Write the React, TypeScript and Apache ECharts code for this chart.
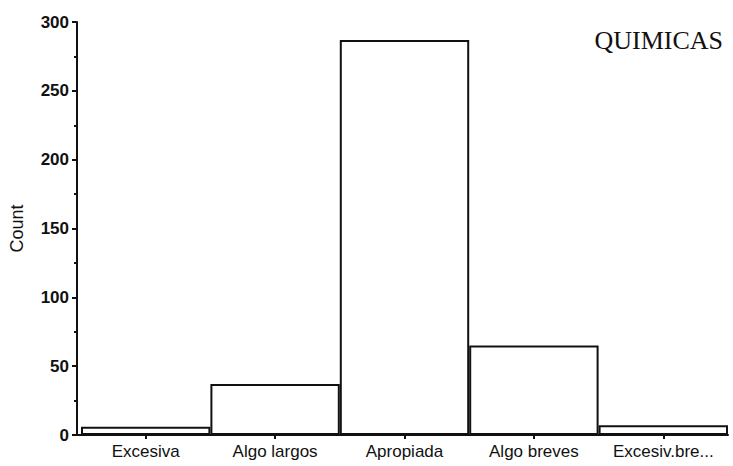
import React, { useEffect, useRef } from "react";
import * as echarts from "echarts";

const categories = ["Excesiva", "Algo largos", "Apropiada", "Algo breves", "Excesiv.bre..."];
const counts = [6, 37, 287, 65, 7];
const yTicks = [0, 50, 100, 150, 200, 250, 300];
const titleText = "QUIMICAS";
const yName = "Count";

export default function App() {
  const ref = useRef<HTMLDivElement>(null);
  useEffect(() => {
    if (!ref.current) return;
    const chart = echarts.init(ref.current, null, { renderer: "svg" });
    chart.setOption({
      animation: false,
      backgroundColor: "#ffffff",
      title: {
        text: titleText,
        right: 5,
        top: 22,
        textStyle: {
          fontFamily: "'Liberation Serif', 'Times New Roman', serif",
          fontWeight: "normal",
          fontSize: 26,
          color: "#111",
        },
      },
      grid: { left: 80, right: 5, top: 22, bottom: 31 },
      xAxis: {
        type: "category",
        data: categories,
        boundaryGap: true,
        axisLine: { show: true, lineStyle: { color: "#111", width: 2 } },
        axisTick: { show: true, alignWithLabel: true, length: 4, lineStyle: { color: "#111", width: 2 } },
        axisLabel: {
          interval: 0,
          margin: 8,
          fontFamily: "'Liberation Sans', Arial, sans-serif",
          fontSize: 17,
          color: "#111",
        },
      },
      yAxis: {
        type: "value",
        min: yTicks[0],
        max: yTicks[yTicks.length - 1],
        interval: 50,
        offset: 4,
        name: yName,
        nameLocation: "middle",
        nameGap: 51,
        nameRotate: 90,
        nameTextStyle: {
          fontFamily: "'Liberation Sans', Arial, sans-serif",
          fontSize: 18,
          color: "#111",
        },
        axisLine: { show: true, lineStyle: { color: "#111", width: 2 } },
        axisTick: { show: true, length: 5, lineStyle: { color: "#111", width: 2 } },
        minorTick: { show: true, splitNumber: 2, length: 3, lineStyle: { color: "#111", width: 2 } },
        splitLine: { show: false },
        axisLabel: {
          margin: 8,
          fontFamily: "'Liberation Sans', Arial, sans-serif",
          fontSize: 17,
          fontWeight: "bold",
          color: "#111",
        },
      },
      graphic: [
        {
          type: "line",
          shape: { x1: 75, y1: 435, x2: 81, y2: 435 },
          style: { stroke: "#111", lineWidth: 2 },
        },
      ],
      series: [
        {
          type: "bar",
          data: counts,
          barWidth: "100%",
          itemStyle: { color: "#ffffff", borderColor: "#111", borderWidth: 2 },
        },
      ],
    });
    return () => chart.dispose();
  }, []);
  return <div ref={ref} style={{ width: 733, height: 466, position: "absolute", left: 0, top: 0 }} />;
}
